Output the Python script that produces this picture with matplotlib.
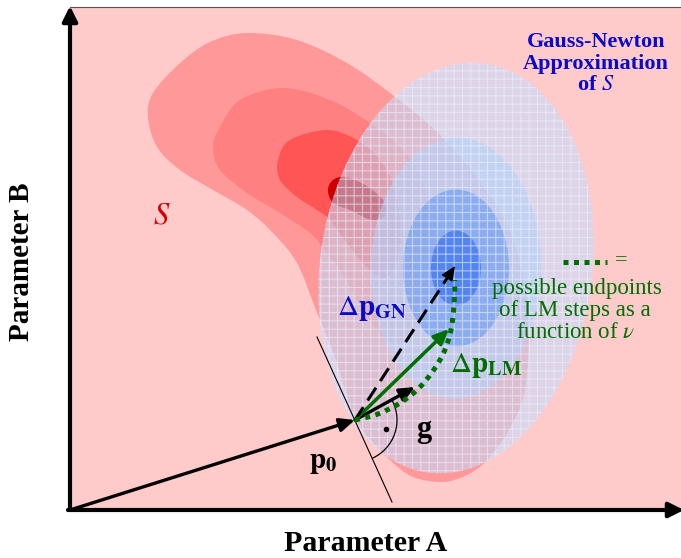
import numpy as np
import matplotlib.pyplot as plt
from matplotlib.patches import Ellipse, PathPatch, FancyArrowPatch, Arc, Rectangle
from matplotlib.path import Path

plt.rcParams['font.family'] = ['Liberation Serif', 'DejaVu Serif']
plt.rcParams['mathtext.fontset'] = 'stix'
plt.rcParams['hatch.linewidth'] = 0.8
plt.rcParams['hatch.color'] = '#eef3ff'

# everything is in picture pixels (x right, y down)
origin = (70, 510)
p0 = (355, 420)
g_tip = (415, 387)
lm_tip = (449, 329)
gn_tip = (455, 266)

# contours of S, outermost first
s1_x = [148, 153, 180, 210, 247, 297, 347, 390, 435, 475, 507, 525, 529, 524, 510, 497, 482, 465, 443, 413, 390, 364, 350, 336, 316, 297, 273, 247, 213, 180, 157]
s1_y = [117, 93, 63, 42, 33, 40, 63, 93, 130, 175, 225, 285, 340, 395, 428, 448, 465, 476, 482, 477, 460, 432, 405, 360, 310, 263, 233, 210, 190, 170, 147]
s2_x = [213, 220, 240, 283, 330, 370, 405, 425, 432, 430, 420, 403, 383, 363, 345, 327, 310, 280, 247, 220]
s2_y = [147, 127, 100, 88, 100, 123, 152, 188, 235, 285, 325, 343, 337, 310, 278, 253, 233, 213, 193, 170]
s3_x = [278, 290, 327, 357, 380, 395, 400, 396, 382, 362, 343, 330, 317, 297, 280]
s3_y = [160, 140, 130, 140, 160, 190, 230, 265, 278, 262, 238, 220, 210, 197, 180]
s4_x = [328, 333, 345, 365, 383, 385, 372, 350, 333]
s4_y = [190, 180, 177, 185, 200, 215, 220, 210, 203]
s_colors = ['#ff9999', '#ff8080', '#ff5555', '#cc0000']

# Gauss-Newton approximation: nested ellipses
gn_center = (456, 268)
gn_w = [272, 170, 106, 50]
gn_h = [413, 261, 157, 75]
gn_angle = [8, 1, 0, 0]
gn_colors = ['#c2deff', '#b4d2fa', '#6799f5', '#3770ed']
gn_alpha = [0.55, 0.6, 0.6, 0.65]

# possible LM endpoints as a function of nu
lm_x = [355, 378, 400, 418, 433, 444, 451, 454, 455]
lm_y = [420, 414, 403, 389, 371, 352, 330, 305, 280]

green = '#006e00'
blue = '#0a0ac8'


def smooth(xs, ys, closed=True):
    p = np.column_stack([xs, ys]).astype(float)
    n = len(p)
    verts = [p[0]]
    codes = [Path.MOVETO]
    segs = n if closed else n - 1
    for i in range(segs):
        a = p[i - 1] if (closed or i > 0) else p[i]
        b = p[i]
        c = p[(i + 1) % n]
        d = p[(i + 2) % n] if (closed or i + 2 < n) else c
        verts += [b + (c - a) / 6, c - (d - b) / 6, c]
        codes += [Path.CURVE4] * 3
    if closed:
        verts.append(p[0])
        codes.append(Path.CLOSEPOLY)
    return Path(verts, codes)


fig = plt.figure(figsize=(6.81, 5.58), dpi=100)
ax = fig.add_axes([0, 0, 1, 1])
ax.set_xlim(0, 681)
ax.set_ylim(558, 0)
ax.axis('off')

ax.add_patch(Rectangle((70, 7), 611, 503, fc='#ffcaca', ec='none', zorder=0))
ax.plot([70, 681], [7, 7], color='#555555', lw=0.8, zorder=1)

for xs, ys, col in zip([s1_x, s2_x, s3_x, s4_x], [s1_y, s2_y, s3_y, s4_y], s_colors):
    ax.add_patch(PathPatch(smooth(xs, ys), fc=col, ec='none', zorder=2))

for w, h, ang, col, al in zip(gn_w, gn_h, gn_angle, gn_colors, gn_alpha):
    ax.add_patch(Ellipse(gn_center, w, h, angle=ang, fc=col, ec='none', alpha=al, zorder=3))
# grid texture over the approximation
ax.add_patch(Ellipse(gn_center, gn_w[0], gn_h[0], angle=gn_angle[0], fc='none',
                     ec=(0.93, 0.95, 1.0, 0.6), lw=0, hatch='++', zorder=4))

# axes
ax.add_patch(FancyArrowPatch(origin, (70, 6), arrowstyle='-|>,head_length=0.9,head_width=0.45',
                             mutation_scale=10, lw=3, color='k', shrinkA=0, shrinkB=0, zorder=6))
ax.add_patch(FancyArrowPatch((68, 510), (684, 510), arrowstyle='-|>,head_length=0.9,head_width=0.45',
                             mutation_scale=10, lw=3, color='k', shrinkA=0, shrinkB=0, zorder=6))

# tangent line and right angle
ax.plot([317, 392], [337, 502], color='k', lw=0.8, zorder=5)
ax.add_patch(Arc(p0, 84, 84, theta1=-29, theta2=66, color='k', lw=0.9, zorder=5))
ax.plot([386], [429], 'o', color='k', ms=3, zorder=5)

arrow_style = '-|>,head_length=0.9,head_width=0.4'
ax.add_patch(FancyArrowPatch(origin, p0, arrowstyle=arrow_style, mutation_scale=10,
                             lw=2.4, color='k', shrinkA=0, shrinkB=0, zorder=7))
ax.add_patch(FancyArrowPatch(p0, g_tip, arrowstyle=arrow_style, mutation_scale=10,
                             lw=2.4, color='k', shrinkA=0, shrinkB=0, zorder=7))
ax.add_patch(FancyArrowPatch(p0, lm_tip, arrowstyle=arrow_style, mutation_scale=10,
                             lw=2.5, color=green, shrinkA=0, shrinkB=0, zorder=7))

# dashed Gauss-Newton step
d = np.subtract(gn_tip, p0) / np.hypot(*np.subtract(gn_tip, p0))
ax.plot([p0[0], gn_tip[0] - 11 * d[0]], [p0[1], gn_tip[1] - 11 * d[1]], color='k', lw=2.2,
        dashes=(5, 2.6), zorder=7)
ax.add_patch(FancyArrowPatch((gn_tip[0] - 14 * d[0], gn_tip[1] - 14 * d[1]), gn_tip,
                             arrowstyle=arrow_style, mutation_scale=10, lw=1, color='k',
                             shrinkA=0, shrinkB=0, zorder=7))

# dotted LM curve
ax.add_patch(PathPatch(smooth(lm_x, lm_y, closed=False), fill=False, ec=green, lw=3.6,
                       ls=(0, (1, 1.1)), capstyle='butt', zorder=8))
ax.plot([563, 607], [262, 262], color=green, lw=3.6, dashes=(1, 1.1), dash_capstyle='butt',
        zorder=10)

# labels
txt = dict(va='baseline', zorder=10)
ax.text(596, 47, 'Gauss-Newton', color=blue, fontsize=16, fontweight='bold', ha='center', **txt)
ax.text(596, 69, 'Approximation', color=blue, fontsize=16, fontweight='bold', ha='center', **txt)
ax.text(596, 90, r'of $S$', color=blue, fontsize=16, fontweight='bold', ha='center', **txt)
ax.text(153, 223, r'$S$', color='#d40000', fontsize=22, **txt)
ax.text(621, 265, '=', color=green, fontsize=16, ha='center', **txt)
ax.text(577, 294, 'possible endpoints', color=green, fontsize=16.5, ha='center', **txt)
ax.text(575, 316, 'of LM steps as a', color=green, fontsize=16.5, ha='center', **txt)
ax.text(576, 338, r'function of $\nu$', color=green, fontsize=16.5, ha='center', **txt)
ax.text(337, 315, r'$\Delta\mathbf{p}_{\mathbf{GN}}$', color=blue, fontsize=21, **txt)
ax.text(450, 372, r'$\Delta\mathbf{p}_{\mathbf{LM}}$', color=green, fontsize=21, **txt)
ax.text(416, 437, 'g', color='k', fontsize=22, fontweight='bold', **txt)
ax.text(309, 468, r'$\mathbf{p}_{\mathbf{0}}$', color='k', fontsize=21, **txt)
ax.text(366, 551, 'Parameter A', fontsize=21.5, fontweight='bold', ha='center', **txt)
ax.text(22, 262, 'Parameter B', fontsize=21, fontweight='bold', rotation=90, ha='center',
        va='center', zorder=10)

fig.savefig('out.png', dpi=100)
